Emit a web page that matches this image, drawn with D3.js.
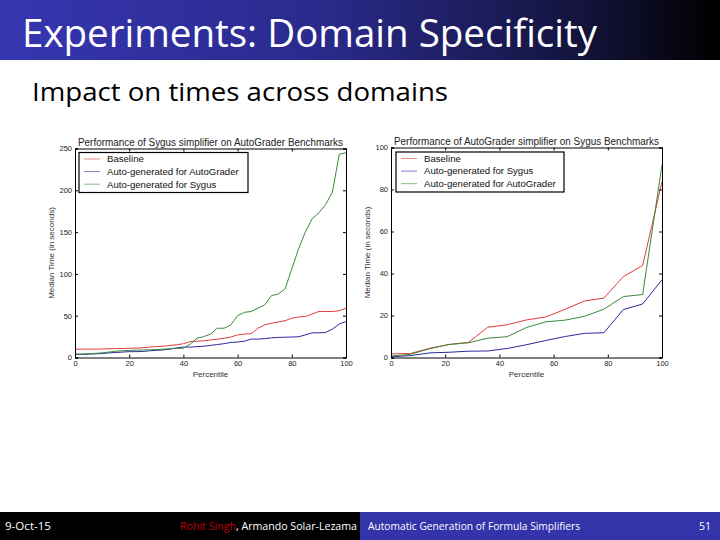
<!DOCTYPE html>
<html><head><meta charset="utf-8">
<script src="https://cdn.jsdelivr.net/npm/d3@7"></script>
<style>body{margin:0;background:#fff}svg{display:block}</style>
</head><body>
<svg id="s" width="720" height="540"></svg>
<script>
// ---- data ----
const leftX = [0,2.5,5,7.5,10,12.5,15,17.5,20,22.5,25,27.5,30,32.5,35,37.5,40,42.5,45,47.5,50,52.5,55,57.5,60,62.5,65,67.5,70,72.5,75,77.5,80,82.5,85,87.5,90,92.5,95,97.5,100];
const leftBaseline = [10,10,10,10,10.2,10.4,10.6,10.8,11,11.3,11.7,12.5,13,13.5,14.5,15.2,16.5,19,19.5,20,21,22,23,24.5,27,28,28.5,35,39,41,42.5,44,47,48.5,49,52,55,55,55,56,59];
const leftAutoGrader = [3.5,3.7,4,4.3,4.8,5.5,6,6.5,7,7,7.2,8,8.5,9,10,11.5,12.5,12.5,13,13.5,14.5,15.5,16.5,18,18.5,19.5,22,22,22.5,23.5,24,24.3,24.5,24.8,27,29.5,29.5,30,34,40,43];
const leftSygus = [4,4.2,4.5,5,5.5,6.5,7.5,8,8.5,8.8,9,9.2,9.5,10,10.5,11,11,16,23,25,28,35,35,39,50,54,55,59,63,74,76,82,106,130,150,166,173,183,198,243,245];
const rightX = [0,7.14,14.29,21.43,28.57,35.71,42.86,50,57.14,64.29,71.43,78.57,85.71,92.86,100];
const rightBaseline = [1.7,1.9,4.4,6.2,7.2,14.4,15.6,17.9,19.3,23.0,26.9,28.3,38.5,43.8,83.7];
const rightSygus = [0.3,0.9,2.2,2.5,3.0,3.1,4.3,6.1,8.1,10.0,11.5,11.8,22.8,25.5,37.0];
const rightAutoGrader = [0.7,1.5,4.2,6.2,7.0,9.2,9.9,14.3,17.0,17.8,19.6,23.0,29.0,30.0,91.7];
const xTicks = [0,20,40,60,80,100];
const leftYTicks = [0,50,100,150,200,250];
const rightYTicks = [0,20,40,60,80,100];
const leftLegend = ["Baseline","Auto-generated for AutoGrader","Auto-generated for Sygus"];
const rightLegend = ["Baseline","Auto-generated for Sygus","Auto-generated for AutoGrader"];
const colors = ["#e03c3c","#2a2aa0","#3a8a3a"];

const svg = d3.select("#s");
const defs = svg.append("defs");
const g = defs.append("linearGradient").attr("id","hdr").attr("x1","0").attr("x2","1").attr("y1","0").attr("y2","0");
g.append("stop").attr("offset","0%").attr("stop-color","#3636b2");
g.append("stop").attr("offset","45%").attr("stop-color","#2a2a8c");
g.append("stop").attr("offset","80%").attr("stop-color","#14143f");
g.append("stop").attr("offset","100%").attr("stop-color","#000");

// header
svg.append("rect").attr("x",0).attr("y",0).attr("width",720).attr("height",60).attr("fill","url(#hdr)");
svg.append("text").attr("x",22).attr("y",47).attr("fill","#fff")
  .style("font-family","'Open Sans',sans-serif").style("font-size","38px")
  .attr("textLength",575).attr("lengthAdjust","spacingAndGlyphs")
  .text("Experiments: Domain Specificity");
svg.append("text").attr("x",32).attr("y",101).attr("fill","#000")
  .style("font-family","'Open Sans',sans-serif").style("font-size","25px")
  .attr("textLength",416).attr("lengthAdjust","spacingAndGlyphs")
  .text("Impact on times across domains");

// footer
svg.append("rect").attr("x",0).attr("y",512).attr("width",360).attr("height",28).attr("fill","#000");
svg.append("rect").attr("x",360).attr("y",512).attr("width",360).attr("height",28).attr("fill","#3333aa");
const ff = "'Open Sans',sans-serif";
function ftext(x,w,txt,col){
  return svg.append("text").attr("x",x).attr("y",530).attr("fill",col).style("font-family",ff).style("font-size","11.5px")
    .attr("textLength",w).attr("lengthAdjust","spacingAndGlyphs").text(txt);
}
ftext(5,46,"9-Oct-15","#fff");
const auth = svg.append("text").attr("x",180).attr("y",530).style("font-family",ff).style("font-size","11.5px")
  .attr("textLength",177).attr("lengthAdjust","spacingAndGlyphs");
auth.append("tspan").attr("fill","#c00000").text("Rohit Singh");
auth.append("tspan").attr("fill","#fff").text(", Armando Solar-Lezama");
ftext(368,212,"Automatic Generation of Formula Simplifiers","#fff");
ftext(699,12,"51","#fff");

function chart(opts){
  const {x0,x1,y0,y1,yMax,yTicks,X,series,legend,title,lg,ylabX} = opts;
  const xs = d3.scaleLinear().domain([0,100]).range([x0,x1]);
  const ys = d3.scaleLinear().domain([0,yMax]).range([y1,y0]);
  const font = "'Liberation Sans',Arial,sans-serif";
  const root = svg.append("g");
  const line = d3.line().x((d,i)=>xs(X[i])).y(d=>ys(d));
  series.forEach((s,k)=>{
    root.append("path").datum(s).attr("d",line).attr("fill","none")
      .attr("stroke",colors[k]).attr("stroke-width",1);
  });
  const ax = [
    d3.axisBottom(xs).tickValues(xTicks).tickSize(-3).tickPadding(3),
    d3.axisTop(xs).tickValues(xTicks).tickSize(-3).tickFormat(""),
    d3.axisLeft(ys).tickValues(yTicks).tickSize(-3).tickPadding(3),
    d3.axisRight(ys).tickValues(yTicks).tickSize(-3).tickFormat("")
  ];
  const tr = [[0,y1],[0,y0],[x0,0],[x1,0]];
  ax.forEach((a,i)=>{
    const ga = root.append("g").attr("transform",`translate(${tr[i][0]},${tr[i][1]})`).call(a);
    ga.selectAll("path.domain").attr("stroke","#000").attr("stroke-width",1);
    ga.selectAll("line").attr("stroke","#000");
    ga.selectAll("text").style("font-family",font).style("font-size","7.5px").attr("fill","#222");
  });
  root.append("text").attr("x",(x0+x1)/2).attr("y",y0-3).attr("text-anchor","middle")
    .style("font-family",font).style("font-size","10px").attr("fill","#222")
    .attr("textLength",265).attr("lengthAdjust","spacingAndGlyphs").text(title);
  root.append("text").attr("x",(x0+x1)/2).attr("y",y1+19).attr("text-anchor","middle")
    .style("font-family",font).style("font-size","8px").attr("fill","#333").text("Percentile");
  root.append("text").attr("transform",`translate(${ylabX},${(y0+y1)/2}) rotate(-90)`).attr("text-anchor","middle")
    .style("font-family",font).style("font-size","8px").attr("fill","#333").text("Median Time (in seconds)");
  root.append("rect").attr("x",lg.x).attr("y",lg.y).attr("width",lg.w).attr("height",lg.h)
    .attr("fill","#fff").attr("stroke","#000").attr("stroke-width",1.2);
  legend.forEach((t,k)=>{
    const yy = lg.y + 6.5 + k*12.6;
    root.append("line").attr("x1",lg.x+5).attr("x2",lg.x+21).attr("y1",yy).attr("y2",yy)
      .attr("stroke",colors[k]).attr("stroke-width",1).attr("stroke-opacity",0.6);
    root.append("text").attr("x",lg.x+28).attr("y",yy+3.3).style("font-family",font).style("font-size","9.6px")
      .attr("fill","#111").text(t);
  });
}

chart({x0:75,x1:346,y0:148.5,y1:357.5,yMax:250,yTicks:leftYTicks,X:leftX,
  series:[leftBaseline,leftAutoGrader,leftSygus],legend:leftLegend,
  title:"Performance of Sygus simplifier on AutoGrader Benchmarks",
  lg:{x:79,y:152.5,w:169,h:40},ylabX:54});
chart({x0:391,x1:662,y0:147.5,y1:357.5,yMax:100,yTicks:rightYTicks,X:rightX,
  series:[rightBaseline,rightSygus,rightAutoGrader],legend:rightLegend,
  title:"Performance of AutoGrader simplifier on Sygus Benchmarks",
  lg:{x:396,y:152,w:168,h:40},ylabX:370});
</script>
</body></html>
